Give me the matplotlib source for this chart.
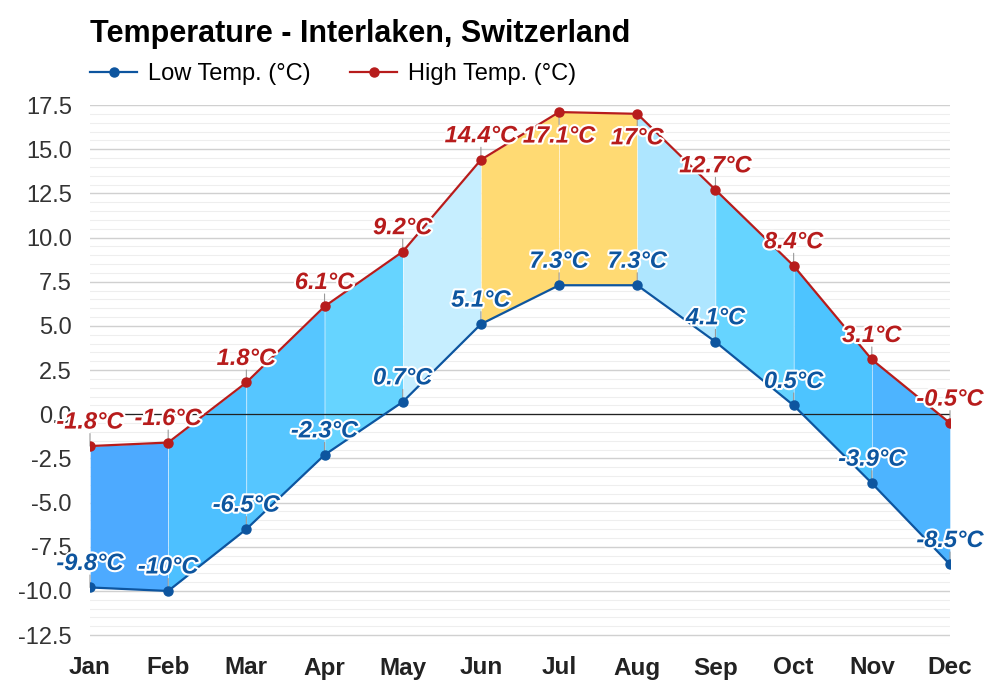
import numpy as np
import matplotlib.pyplot as plt
import matplotlib.patheffects as pe
from matplotlib.ticker import MultipleLocator, FormatStrFormatter

plt.rcParams['font.family'] = ['Liberation Sans', 'DejaVu Sans']

months = ['Jan', 'Feb', 'Mar', 'Apr', 'May', 'Jun', 'Jul', 'Aug', 'Sep', 'Oct', 'Nov', 'Dec']
low = [-9.8, -10, -6.5, -2.3, 0.7, 5.1, 7.3, 7.3, 4.1, 0.5, -3.9, -8.5]
high = [-1.8, -1.6, 1.8, 6.1, 9.2, 14.4, 17.1, 17, 12.7, 8.4, 3.1, -0.5]
# fill colour of the band starting at each month
band_colors = ['#4daaff', '#4dc0ff', '#56c6ff', '#66d4ff', '#c6eeff', '#ffda73',
               '#ffda73', '#aee6ff', '#66d4ff', '#4dc4ff', '#4db4ff']

low_c = '#0d559f'
high_c = '#b71c1c'

fig = plt.figure(figsize=(10, 7), dpi=100)
ax = fig.add_axes([0.09, 0.08, 0.86, 0.77])
x = np.arange(len(months))

# bands between low and high, one per month
for i in range(len(months) - 1):
    ax.fill_between(x[i:i + 2], low[i:i + 2], high[i:i + 2], color=band_colors[i],
                    edgecolor='#ffffff', linewidth=0.3, zorder=2)

ax.axhline(0, color='#222222', lw=0.9, zorder=2.5)

ax.plot(x, low, color=low_c, lw=1.6, marker='o', ms=6.5, zorder=4, label='Low Temp. (°C)')
ax.plot(x, high, color=high_c, lw=1.6, marker='o', ms=6.5, zorder=4, label='High Temp. (°C)')

stroke = [pe.withStroke(linewidth=3, foreground='white')]
ymax = 17.5
for vals, col in [(low, low_c), (high, high_c)]:
    for xi, v in zip(x, vals):
        # no room above the top of the plot -> put the label under the point
        below = v > ymax - 1.5
        d = -1 if below else 1
        ax.annotate('', xy=(xi, v), xytext=(0, 9 * d), textcoords='offset points',
                    arrowprops=dict(arrowstyle='-', color='#999999', lw=0.8,
                                    shrinkA=0, shrinkB=0), zorder=3)
        ax.annotate('%g°C' % v, xy=(xi, v), xytext=(0, 9 * d), textcoords='offset points',
                    ha='center', va='top' if below else 'bottom', fontsize=17,
                    fontweight='bold', fontstyle='italic', color=col,
                    path_effects=stroke, zorder=6)

ax.set_xlim(0, 11)
ax.set_ylim(-13, ymax)
ax.yaxis.set_major_locator(MultipleLocator(2.5))
ax.yaxis.set_minor_locator(MultipleLocator(0.5))
ax.yaxis.set_major_formatter(FormatStrFormatter('%.1f'))
ax.grid(which='major', axis='y', color='#d0d0d0', lw=1, zorder=0)
ax.grid(which='minor', axis='y', color='#eeeeee', lw=0.8, zorder=0)
ax.set_axisbelow(True)
ax.set_xticks(x)
ax.set_xticklabels(months, fontsize=17.5, fontweight='bold', color='#222222')
ax.tick_params(axis='y', labelsize=17, labelcolor='#333333', length=0, pad=13, which='both')
ax.tick_params(axis='x', length=0, pad=9)
for s in ax.spines.values():
    s.set_visible(False)

fig.text(0.09, 0.94, 'Temperature - Interlaken, Switzerland', fontsize=22,
         fontweight='bold', va='baseline')
fig.legend(loc='center left', bbox_to_anchor=(0.09, 0.894), ncol=2, frameon=False,
           fontsize=17, handlelength=2.0, columnspacing=1.65, handletextpad=0.47,
           borderpad=0, borderaxespad=0)

fig.savefig('out.png', dpi=100)
